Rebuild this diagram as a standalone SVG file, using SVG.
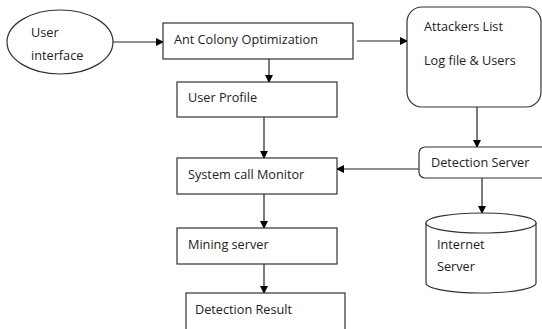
<svg xmlns="http://www.w3.org/2000/svg" width="542" height="329" viewBox="0 0 542 329">
<defs>
<marker id="ah" markerWidth="8" markerHeight="8" refX="7" refY="4" orient="auto" markerUnits="userSpaceOnUse">
<path d="M0,0 L8,4 L0,8 Z" fill="#000"/>
</marker>
<style>
.s{fill:#fff;stroke:#333;stroke-width:1.2}
.t{font-family:"Open Sans","Liberation Sans",sans-serif;font-size:12.7px;fill:#222}
.c{stroke:#222;stroke-width:1.2;fill:none;marker-end:url(#ah)}
</style>
</defs>
<rect width="542" height="329" fill="#fff"/>
<g id="connectors">
<line class="c" x1="113" y1="42" x2="163" y2="42"/>
<line class="c" x1="357" y1="41" x2="407" y2="41"/>
<line class="c" x1="269" y1="59" x2="269" y2="82"/>
<line class="c" x1="264" y1="117" x2="264" y2="158"/>
<line class="c" x1="477" y1="107" x2="477" y2="147"/>
<line class="c" x1="419" y1="169" x2="337" y2="169"/>
<line class="c" x1="482" y1="178" x2="482" y2="213"/>
<line class="c" x1="264" y1="194" x2="264" y2="228"/>
<line class="c" x1="264" y1="264" x2="264" y2="293"/>
</g>
<g id="user-interface">
<ellipse class="s" cx="60" cy="42" rx="53" ry="32"/>
<text class="t" x="31" y="37">User</text>
<text class="t" x="31" y="60">interface</text>
</g>
<g id="aco">
<rect class="s" x="163" y="23" width="190" height="36"/>
<text class="t" x="174" y="44">Ant Colony Optimization</text>
</g>
<g id="attackers">
<rect class="s" x="407" y="7" width="134" height="100" rx="15"/>
<text class="t" x="424" y="31">Attackers List</text>
<text class="t" x="424" y="65">Log file &amp; Users</text>
</g>
<g id="user-profile">
<rect class="s" x="177" y="82" width="160" height="35"/>
<text class="t" x="188" y="102">User Profile</text>
</g>
<g id="system-call-monitor">
<rect class="s" x="177" y="158" width="160" height="36"/>
<text class="t" x="188" y="179">System call Monitor</text>
</g>
<g id="detection-server">
<rect class="s" x="419" y="147" width="130" height="31" rx="6"/>
<text class="t" x="431" y="167">Detection Server</text>
</g>
<g id="internet-server">
<path class="s" d="M426,223 L426,283 A55,10 0 0 0 536,283 L536,223"/>
<ellipse class="s" cx="481" cy="223" rx="55" ry="10"/>
<text class="t" x="437" y="249">Internet</text>
<text class="t" x="437" y="271">Server</text>
</g>
<g id="mining-server">
<rect class="s" x="177" y="228" width="160" height="36"/>
<text class="t" x="188" y="249">Mining server</text>
</g>
<g id="detection-result">
<rect class="s" x="186" y="293" width="159" height="45"/>
<text class="t" x="195" y="314">Detection Result</text>
</g>
</svg>
